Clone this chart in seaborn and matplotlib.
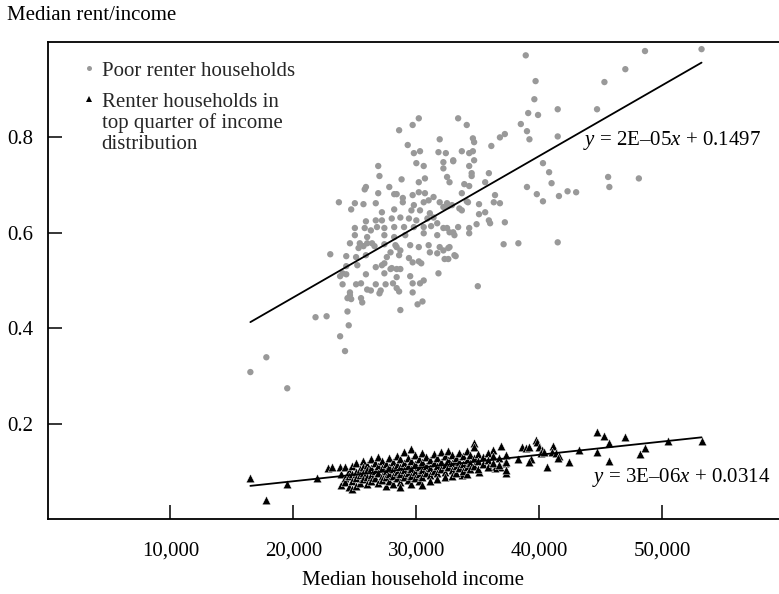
import numpy as np
import pandas as pd
import matplotlib
matplotlib.use("Agg")
import matplotlib.pyplot as plt
import seaborn as sns
from matplotlib.lines import Line2D

# ---------------- data ----------------
poor_income = [
    38900, 48600, 53200, 39700, 47000, 45300, 39600, 33400, 34100, 39100,
    39900, 41500, 44700, 38500, 39000, 39200, 41500, 37200, 36800, 36100,
    34600, 34700, 33700, 34600, 34300, 33000, 34700, 34300, 34500, 34500,
    35900, 32500, 32700, 33900, 34300, 35600, 40300, 40800, 41000, 39000,
    39800, 40300, 41600, 42300, 43000, 45600, 45700, 48100, 33700, 34100,
    36400, 36300, 36800, 35100, 33500, 33700, 35100, 35600, 32500, 34200,
    32600, 35900, 36000, 37200, 34900, 34300, 34300, 33400, 32500, 33000,
    33100, 32600, 32600, 33200, 37100, 38300, 41500, 35000, 30200, 29700,
    28600, 31900, 29300, 29800, 30300, 31800, 32400, 33000, 30000, 30600,
    32200, 32200, 26900, 27000, 28800, 30200, 30700, 25900, 25800, 27800,
    26900, 28200, 28400, 28900, 29700, 30200, 30700, 31400, 23700, 25000,
    25700, 24700, 26700, 28900, 29800, 30600, 31000, 31900, 32200, 27200,
    28200, 29600, 30300, 31100, 32900, 25900, 26700, 27200, 28000, 28700,
    29400, 30000, 30900, 31400, 31700, 25000, 25800, 26300, 26800, 27400,
    28200, 29000, 29800, 30600, 31200, 32200, 25000, 26000, 27400, 28200,
    29100, 30600, 31700, 32700, 24600, 25400, 26000, 26600, 27400, 28400,
    29500, 30200, 31000, 31900, 32700, 23000, 24300, 25300, 25700, 25900,
    26400, 27900, 28300, 28700, 28600, 31100, 31700, 32200, 33100, 32300,
    29400, 29700, 30200, 30400, 27600, 27400, 25100, 25200, 24300, 24000,
    23800, 24300, 25900, 26700, 27200, 27400, 27900, 28000, 28400, 28700,
    28400, 29500, 29700, 30300, 30600, 31800, 24000, 25100, 25500, 26000,
    26300, 26700, 27100, 27000, 27500, 28100, 28400, 28600, 29700, 24600,
    24600, 24400, 24700, 25500, 25600, 28700, 30500, 30100, 24400, 21800,
    22700, 24500, 23800, 24200, 17800, 16500, 19500,
]
poor_ratio = [
    0.972, 0.981, 0.985, 0.918, 0.943, 0.916, 0.880, 0.840, 0.826, 0.851,
    0.847, 0.859, 0.859, 0.828, 0.813, 0.796, 0.802, 0.807, 0.800, 0.782,
    0.798, 0.790, 0.771, 0.771, 0.767, 0.752, 0.752, 0.740, 0.725, 0.719,
    0.725, 0.717, 0.706, 0.702, 0.698, 0.706, 0.746, 0.727, 0.704, 0.696,
    0.681, 0.666, 0.677, 0.687, 0.685, 0.717, 0.696, 0.714, 0.683, 0.666,
    0.679, 0.664, 0.662, 0.660, 0.651, 0.647, 0.639, 0.643, 0.662, 0.664,
    0.656, 0.626, 0.620, 0.622, 0.618, 0.610, 0.599, 0.612, 0.610, 0.601,
    0.595, 0.568, 0.545, 0.551, 0.576, 0.578, 0.580, 0.488, 0.840, 0.826,
    0.815, 0.796, 0.784, 0.767, 0.771, 0.769, 0.767, 0.750, 0.746, 0.740,
    0.748, 0.735, 0.740, 0.719, 0.712, 0.706, 0.714, 0.696, 0.691, 0.696,
    0.683, 0.681, 0.681, 0.673, 0.679, 0.685, 0.683, 0.675, 0.664, 0.662,
    0.660, 0.649, 0.662, 0.664, 0.658, 0.664, 0.668, 0.664, 0.654, 0.643,
    0.649, 0.647, 0.647, 0.641, 0.658, 0.624, 0.626, 0.626, 0.630, 0.632,
    0.630, 0.626, 0.630, 0.632, 0.620, 0.610, 0.610, 0.605, 0.612, 0.610,
    0.612, 0.612, 0.612, 0.612, 0.614, 0.610, 0.595, 0.591, 0.595, 0.591,
    0.595, 0.599, 0.595, 0.601, 0.578, 0.578, 0.578, 0.572, 0.576, 0.570,
    0.574, 0.570, 0.574, 0.570, 0.570, 0.555, 0.551, 0.568, 0.572, 0.553,
    0.578, 0.559, 0.574, 0.563, 0.553, 0.559, 0.557, 0.563, 0.553, 0.545,
    0.547, 0.538, 0.540, 0.536, 0.549, 0.536, 0.549, 0.532, 0.530, 0.515,
    0.509, 0.513, 0.513, 0.528, 0.532, 0.515, 0.524, 0.526, 0.524, 0.524,
    0.507, 0.509, 0.494, 0.494, 0.500, 0.515, 0.492, 0.492, 0.494, 0.481,
    0.479, 0.492, 0.479, 0.473, 0.492, 0.494, 0.484, 0.477, 0.475, 0.475,
    0.469, 0.463, 0.461, 0.463, 0.454, 0.438, 0.456, 0.450, 0.435, 0.423,
    0.425, 0.406, 0.383, 0.352, 0.339, 0.308, 0.274,
]

top_income = [
    # sparse points
    16500, 17800, 19500, 21900, 22800, 23100, 23800, 34700, 34700, 36200,
    36900, 38600, 38900, 39200, 39700, 39800, 40000, 40200, 41100, 41000,
    40100, 40400, 41400, 41600, 41500, 42400, 40600, 39300, 39200, 38300,
    37300, 37200, 36800, 36400, 35900, 43200, 44700, 44700, 45300, 45700,
    47000, 45700, 48200, 48600, 50500, 53200, 33700, 35100,
    # dense core
    23900, 23900, 24200, 24200, 24200, 24500, 24500, 24500,
    24800, 24800, 24800, 24800, 25100, 25100, 25100, 25100,
    25400, 25400, 25400, 25700, 25700, 25700, 25700,
    26000, 26000, 26000, 26000, 26300, 26300, 26300, 26300,
    26600, 26600, 26600, 26900, 26900, 26900, 26900,
    27200, 27200, 27200, 27200, 27500, 27500, 27500, 27500,
    27800, 27800, 27800, 27800, 28100, 28100, 28100, 28100,
    28400, 28400, 28400, 28400, 28700, 28700, 28700, 28700, 28700,
    29000, 29000, 29000, 29000, 29300, 29300, 29300, 29300,
    29600, 29600, 29600, 29600, 29600, 29900, 29900, 29900, 29900,
    30200, 30200, 30200, 30200, 30500, 30500, 30500, 30500, 30500,
    30800, 30800, 30800, 31100, 31100, 31100, 31100,
    31400, 31400, 31400, 31700, 31700, 31700, 31700,
    32000, 32000, 32000, 32300, 32300, 32300, 32300,
    32600, 32600, 32600, 32900, 32900, 32900, 32900,
    33200, 33200, 33200, 33500, 33500, 33500, 33800, 33800, 33800,
    34100, 34100, 34100, 34100, 34400, 34400, 34400, 34700, 34700,
    35000, 35000, 35000, 35400, 35400, 35800, 35800, 35800,
    36200, 36200, 36700, 36700, 37300, 37300, 37300,
]
top_ratio = [
    0.085, 0.039, 0.073, 0.085, 0.106, 0.110, 0.108, 0.159, 0.150, 0.144,
    0.154, 0.150, 0.148, 0.150, 0.165, 0.161, 0.150, 0.144, 0.152, 0.140,
    0.138, 0.140, 0.138, 0.133, 0.127, 0.119, 0.108, 0.125, 0.119, 0.125,
    0.096, 0.117, 0.108, 0.106, 0.108, 0.144, 0.140, 0.182, 0.173, 0.159,
    0.171, 0.121, 0.136, 0.148, 0.163, 0.163, 0.092, 0.098,
    0.095, 0.072, 0.108, 0.085, 0.078, 0.101, 0.090, 0.066,
    0.112, 0.094, 0.080, 0.062, 0.117, 0.099, 0.086, 0.070,
    0.105, 0.092, 0.076, 0.121, 0.110, 0.096, 0.083,
    0.114, 0.102, 0.088, 0.073, 0.125, 0.107, 0.093, 0.080,
    0.118, 0.100, 0.086, 0.130, 0.112, 0.097, 0.075,
    0.122, 0.106, 0.091, 0.082, 0.115, 0.101, 0.088, 0.070,
    0.127, 0.110, 0.095, 0.079, 0.119, 0.104, 0.090, 0.074,
    0.133, 0.113, 0.099, 0.085, 0.125, 0.108, 0.094, 0.078, 0.068,
    0.140, 0.117, 0.102, 0.088, 0.128, 0.111, 0.096, 0.081,
    0.147, 0.121, 0.105, 0.091, 0.073, 0.135, 0.115, 0.099, 0.086,
    0.126, 0.109, 0.094, 0.079, 0.138, 0.119, 0.103, 0.088, 0.072,
    0.130, 0.112, 0.097, 0.124, 0.107, 0.092, 0.080,
    0.136, 0.117, 0.101, 0.127, 0.111, 0.096, 0.084,
    0.140, 0.120, 0.104, 0.131, 0.114, 0.099, 0.087,
    0.143, 0.123, 0.108, 0.134, 0.117, 0.102, 0.090,
    0.128, 0.112, 0.097, 0.139, 0.120, 0.106, 0.131, 0.115, 0.100,
    0.142, 0.124, 0.109, 0.094, 0.135, 0.118, 0.104, 0.127, 0.112,
    0.137, 0.121, 0.105, 0.130, 0.115, 0.139, 0.124, 0.110,
    0.132, 0.118, 0.127, 0.113, 0.134, 0.120, 0.103,
]

x_ticks = [10000, 20000, 30000, 40000, 50000]
x_tick_labels = ["10,000", "20,000", "30,000", "40,000", "50,000"]
y_ticks = [0.2, 0.4, 0.6, 0.8]
y_tick_labels = ["0.2", "0.4", "0.6", "0.8"]

poor_label = "Poor renter households"
top_label_lines = ["Renter households in", "top quarter of income", "distribution"]
poor_eq = r"$y$ = 2E–05$x$ + 0.1497"
top_eq = r"$y$ = 3E–06$x$ + 0.0314"
x_label = "Median household income"
y_label = "Median rent/income"

# ---------------- styling ----------------
sns.set_theme(style="white")
plt.rcParams["font.family"] = ["Liberation Serif", "DejaVu Serif"]
plt.rcParams["mathtext.fontset"] = "custom"
plt.rcParams["mathtext.rm"] = "Liberation Serif"
plt.rcParams["mathtext.it"] = "Liberation Serif:italic"

FS = 15
GRAY = "#999999"

fig = plt.figure(figsize=(7.79, 5.94), dpi=100)
ax = fig.add_axes([0.061, 0.1263, 0.939, 0.803])

poor = pd.DataFrame({"income": poor_income, "ratio": poor_ratio})
top = pd.DataFrame({"income": top_income, "ratio": top_ratio})

sns.scatterplot(data=poor, x="income", y="ratio", ax=ax, color=GRAY, s=21,
                edgecolor="none", linewidth=0, zorder=2)
sns.scatterplot(data=top, x="income", y="ratio", ax=ax, marker="^",
                color="black", s=38, edgecolor="white", linewidth=0.3, zorder=3)
sns.regplot(data=poor, x="income", y="ratio", ax=ax, scatter=False, ci=None,
            color="black", line_kws=dict(lw=1.3, zorder=4))
sns.regplot(data=top, x="income", y="ratio", ax=ax, scatter=False, ci=None,
            color="black", line_kws=dict(lw=1.3, zorder=4))

ax.set_xlim(0, 59500)
ax.set_ylim(0, 1.0)
ax.set_xticks(x_ticks)
ax.set_xticklabels(x_tick_labels)
ax.set_yticks(y_ticks)
ax.set_yticklabels(y_tick_labels)

for side in ["left", "bottom", "top"]:
    ax.spines[side].set_visible(True)
    ax.spines[side].set_color("black")
    ax.spines[side].set_linewidth(1.3)
ax.spines["right"].set_visible(False)

ax.tick_params(axis="both", direction="in", length=10, width=1.1,
               color="black", labelsize=FS, labelcolor="black",
               bottom=True, left=True, top=False, right=False)
ax.tick_params(axis="x", pad=16)
ax.tick_params(axis="y", pad=10)

ax.set_xlabel(x_label, fontsize=FS, color="black", labelpad=8)
ax.set_ylabel(y_label, fontsize=FS, color="black", rotation=0,
              ha="left", va="center")
ax.yaxis.set_label_coords(-0.0554, 1.055)

# legend
h1 = Line2D([], [], marker="o", ls="none", color=GRAY, markersize=3.6,
            markeredgewidth=0)
leg1 = ax.legend([h1], [poor_label], loc="upper left",
                 bbox_to_anchor=(0.0475, 0.960), frameon=False, fontsize=FS,
                 handlelength=0.6, handletextpad=0.33, borderpad=0,
                 borderaxespad=0)
ax.add_artist(leg1)
h2 = Line2D([], [], marker="^", ls="none", color="black", markersize=4.8,
            markeredgewidth=0)
blank = Line2D([], [], ls="none")
ax.legend([h2, blank, blank], top_label_lines, loc="upper left",
          bbox_to_anchor=(0.0475, 0.895), frameon=False, fontsize=FS,
          handlelength=0.6, handletextpad=0.33, borderpad=0,
          borderaxespad=0, labelspacing=0.07)

ax.text(0.732, 0.784, poor_eq, transform=ax.transAxes, fontsize=FS,
        ha="left", va="baseline", color="black")
ax.text(0.744, 0.078, top_eq, transform=ax.transAxes, fontsize=FS,
        ha="left", va="baseline", color="black")

fig.savefig("out.png", dpi=100)
